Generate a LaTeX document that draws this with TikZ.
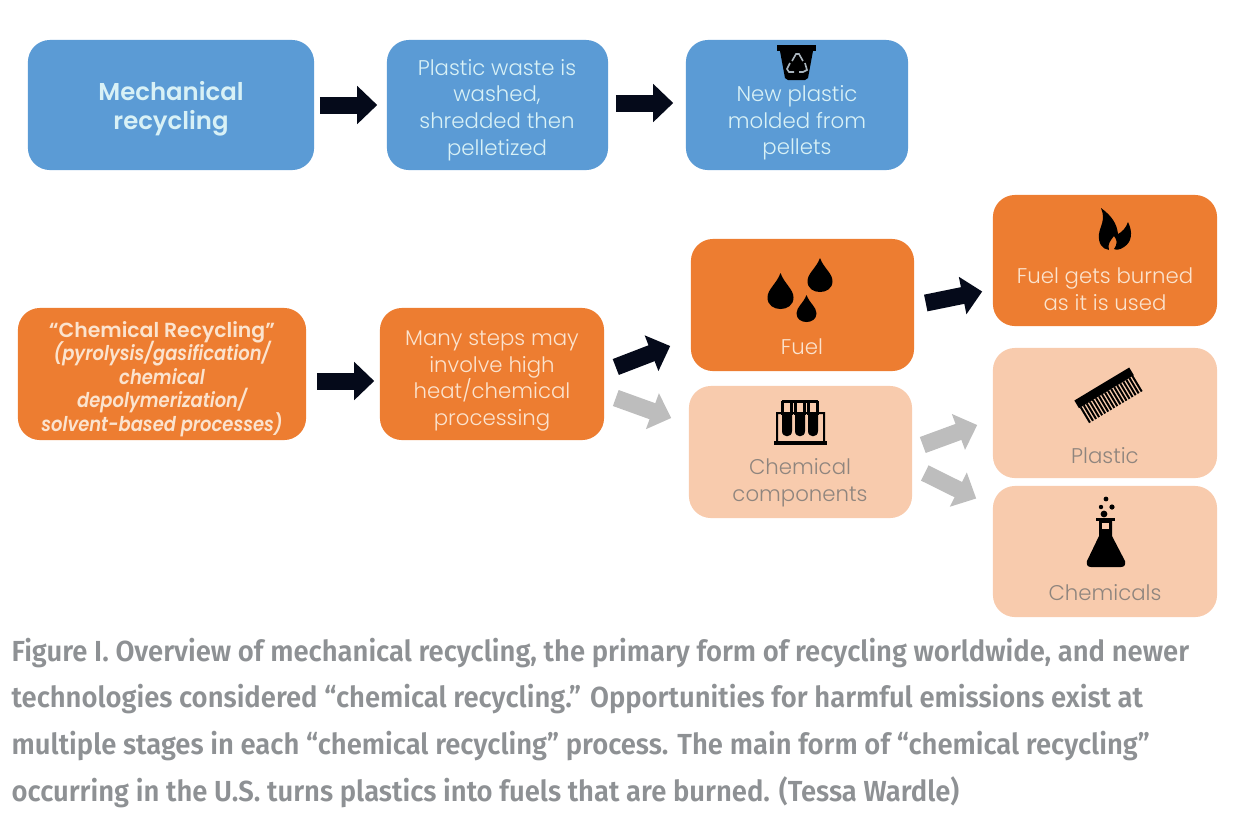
\documentclass[tikz,border=0pt]{standalone}
\usepackage{fontspec}
\usetikzlibrary{arrows.meta}
\setmainfont{Poppins}[UprightFont={* Light},BoldFont={* SemiBold},BoldItalicFont={* SemiBold Italic}]
\newfontfamily\capfont{Fira Sans}[UprightFont={* SemiBold},FakeStretch=0.945]
\newfontfamily\chemfont{Poppins}[UprightFont={* SemiBold Italic},FakeStretch=0.88]
\setlength{\lineskiplimit}{-10pt}
\setlength{\normallineskiplimit}{-10pt}
\definecolor{boxblue}{HTML}{5B9BD5}
\definecolor{boxorange}{HTML}{ED7D31}
\definecolor{boxpeach}{HTML}{F8CBAD}
\definecolor{txtblue}{HTML}{D8F1F6}
\definecolor{txtorange}{HTML}{FBE3CE}
\definecolor{txtpeach}{HTML}{8F857E}
\definecolor{arrowgrey}{HTML}{BDBDBD}
\definecolor{arrowblack}{HTML}{050A1A}
\definecolor{capgrey}{HTML}{8E9194}
\definecolor{binsign}{HTML}{A9B4BC}
\tikzset{
  box/.style={rectangle,rounded corners=2.2mm,inner sep=0pt},
  bluebox/.style={box,fill=boxblue},
  orangebox/.style={box,fill=boxorange},
  peachbox/.style={box,fill=boxpeach},
  boxtext/.style={inner sep=0pt,align=center,font=\fontsize{6.05}{7.6}\selectfont},
  blockarrow/.style={line width=1.7mm,-{Triangle[length=2mm,width=3.7mm]}},
  blackarrow/.style={blockarrow,arrowblack},
  greyarrow/.style={blockarrow,arrowgrey}
}
\begin{document}
\begin{tikzpicture}[x=0.01cm,y=-0.01cm]
  \useasboundingbox (0,0) rectangle (1238,826);

  % Mechanical row
  \node[bluebox,minimum width=2.86cm,minimum height=1.3cm] (mech) at (171,105) {};
  \node[boxtext,text=txtblue,font=\fontsize{6.93}{8.2}\selectfont\bfseries] (mechtxt) at (171,109)
    {Mechanical\\ recycling};
  \node[bluebox,minimum width=2.21cm,minimum height=1.3cm] (wash) at (497.5,105) {};
  \node[boxtext,text=txtblue] (washtxt) at (497,110) {Plastic waste is\\ washed,\\ shredded then\\ pelletized};
  \node[bluebox,minimum width=2.22cm,minimum height=1.3cm] (newp) at (797,105) {};
  \node[boxtext,text=txtblue] (newptxt) at (797,123) {New plastic\\ molded from\\ pellets};

  % Chemical row
  \node[orangebox,minimum width=2.88cm,minimum height=1.32cm] (chem) at (162,374) {};
  \node[boxtext,text=txtorange,font=\fontsize{5.8}{6.7}\selectfont] (chemtxt) at (162,379)
    {\bfseries “Chemical Recycling”\\
     \chemfont (pyrolysis/gasification/\\
     \chemfont chemical\\
     \chemfont depolymerization/\\
     \chemfont solvent-based processes)};
  \node[orangebox,minimum width=2.24cm,minimum height=1.32cm] (proc) at (492,374) {};
  \node[boxtext,text=txtorange] (proctxt) at (492,381) {Many steps may\\ involve high\\ heat/chemical\\ processing};
  \node[orangebox,minimum width=2.23cm,minimum height=1.32cm] (fuel) at (802.5,305) {};
  \node[boxtext,text=txtorange] (fueltxt) at (802,347) {Fuel};
  \node[peachbox,minimum width=2.23cm,minimum height=1.32cm] (comp) at (800.5,452) {};
  \node[boxtext,text=txtpeach] (comptxt) at (800,483) {Chemical\\ components};
  \node[orangebox,minimum width=2.24cm,minimum height=1.31cm] (burn) at (1105,260.5) {};
  \node[boxtext,text=txtorange] (burntxt) at (1105,289) {Fuel gets burned\\ as it is used};
  \node[peachbox,minimum width=2.24cm,minimum height=1.3cm] (plas) at (1105,413) {};
  \node[boxtext,text=txtpeach] (plastxt) at (1105,456) {Plastic};
  \node[peachbox,minimum width=2.24cm,minimum height=1.31cm] (chms) at (1105,551.5) {};
  \node[boxtext,text=txtpeach] (chmstxt) at (1105,593) {Chemicals};

  % Arrows
  \draw[blackarrow] ([shift={(5,0)}]mech.east) -- ([shift={(-9,0)}]wash.west);
  \draw[blackarrow] ([shift={(7,-2)}]wash.east) -- ([shift={(-12,-2)}]newp.west);
  \draw[blackarrow] ([shift={(10,7)}]chem.east) -- ([shift={(-5,7)}]proc.west);
  \draw[blackarrow] ([shift={(11,-7)}]proc.east) -- ([shift={(-20,41)}]fuel.west);
  \draw[greyarrow] ([shift={(11,24)}]proc.east) -- ([shift={(-19,113)}]fuel.west);
  \draw[blackarrow] ([shift={(11,-2)}]fuel.east) -- ([shift={(-10,31)}]burn.west);
  \draw[greyarrow] ([shift={(10,-7)}]comp.east) -- ([shift={(-15,12)}]plas.west);
  \draw[greyarrow] ([shift={(12,21)}]comp.east) -- ([shift={(-16,-53)}]chms.west);

  % Waste bin
  \fill[black] (777,45) rectangle (816,51);
  \fill[black] (780,51) -- (813,51) -- (808,78) -- (805,80) -- (788,80) -- (785,78) -- cycle;
  \draw[binsign,line width=0.16mm] (792,61) -- (796,54) -- (799,54) -- (803,61)
    (805,63) -- (807,70) -- (803,72) -- (799,72) (794,72) -- (789,72) -- (787,69) -- (790,63);

  % Drops
  \foreach \dx/\dy/\dw/\dh in {820/258/12.5/34, 780.5/273/13/36, 806.5/295/10/27}{
    \fill[black] (\dx,\dy) .. controls (\dx+0.3*\dw,\dy+0.3*\dh) and (\dx+\dw,\dy+0.45*\dh) .. (\dx+\dw,\dy+0.68*\dh)
      .. controls (\dx+\dw,\dy+0.9*\dh) and (\dx+0.5*\dw,\dy+\dh) .. (\dx,\dy+\dh)
      .. controls (\dx-0.5*\dw,\dy+\dh) and (\dx-\dw,\dy+0.9*\dh) .. (\dx-\dw,\dy+0.68*\dh)
      .. controls (\dx-\dw,\dy+0.45*\dh) and (\dx-0.3*\dw,\dy+0.3*\dh) .. (\dx,\dy);
  }

  % Flame
  \fill[black] (1101,208) .. controls (1112,216) and (1117,224) .. (1118,234)
    .. controls (1122,232) and (1126,228) .. (1128,222)
    .. controls (1133,232) and (1132,242) .. (1124,247)
    .. controls (1120,250) and (1116,250) .. (1114,249)
    .. controls (1118,243) and (1117,240) .. (1114,236)
    .. controls (1111,240) and (1107,244) .. (1109,250)
    .. controls (1102,249) and (1098,243) .. (1099,234)
    .. controls (1100,226) and (1106,220) .. (1101,208);

  % Test tubes
  \fill[black] (774,441) rectangle (827,445);
  \fill[black] (776,412) rectangle (778,441) (823,412) rectangle (825,441) (776,412) rectangle (825,414);
  \foreach \tx in {787,800,813}{
    \draw[black,line width=0.25mm] (\tx-4.5,402) rectangle (\tx+4.5,414);
    \fill[black] (\tx-5,412) -- (\tx+5,412) -- (\tx+5,431)
      .. controls (\tx+5,438) and (\tx-5,438) .. (\tx-5,431) -- cycle;
  }
  \fill[black] (782,400) rectangle (818,403);

  % Comb
  \begin{scope}[shift={(1109,396)},rotate=31]
    \fill[black] (-32,-14) rectangle (32,-5);
    \foreach \tk in {0,...,17}{
      \fill[black] (-31+3.55*\tk,-5) rectangle (-29+3.55*\tk,13);
    }
  \end{scope}

  % Flask
  \fill[black] (1096,518) rectangle (1115,521);
  \fill[black] (1099,521) -- (1112,521) -- (1112,536) -- (1125,561)
    .. controls (1126,565) and (1124,567) .. (1121,567) -- (1091,567)
    .. controls (1088,567) and (1086,565) .. (1087,561) -- (1099,536) -- cycle;
  \fill[boxpeach] (1102,523) rectangle (1109,529);
  \foreach \bx/\by/\br in {1106/499/2.4, 1101/507/2.2, 1112/507/2.6, 1104/514/3.4}{
    \fill[black] (\bx,\by) circle[radius=\br];
  }

  % Caption
  \node[anchor=north west,inner sep=0pt,align=left,text=capgrey,
        font=\capfont\fontsize{8.25}{13.3}\selectfont] (caption) at (11,637)
    {Figure I. Overview of mechanical recycling, the primary form of recycling worldwide, and newer\\
     technologies considered “chemical recycling.” Opportunities for harmful emissions exist at\\
     multiple stages in each “chemical recycling” process. The main form of “chemical recycling”\\
     occurring in the U.S. turns plastics into fuels that are burned. (Tessa Wardle)};
\end{tikzpicture}
\end{document}
